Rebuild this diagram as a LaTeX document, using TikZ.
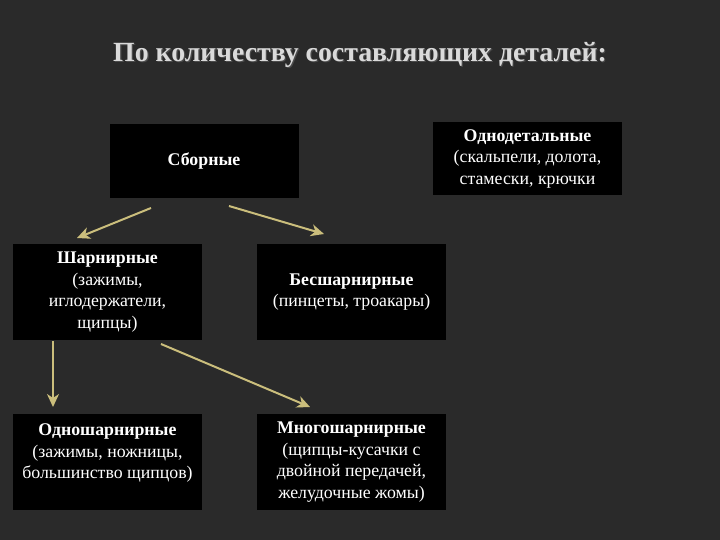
\documentclass[tikz,border=0pt]{standalone}
\usepackage{fontspec}
\setmainfont{Liberation Serif}
\usetikzlibrary{arrows.meta}
\definecolor{bgc}{HTML}{2A2A2A}
\definecolor{arrc}{HTML}{CBBE7C}
\definecolor{titlec}{HTML}{DADADA}
\tikzset{
  box/.style={fill=black, draw=none, text=white, align=center, inner sep=0pt,
    minimum width=189pt, font=\fontsize{17.8}{21.6}\selectfont},
  arr/.style={draw=arrc, line width=2pt, -{Stealth[length=13pt,width=12pt,inset=4pt]}}
}
\begin{document}
\begin{tikzpicture}[x=1pt,y=-1pt]
\fill[bgc] (0,0) rectangle (720,540);
\useasboundingbox (0,0) rectangle (720,540);
\node[text=black!70, font=\fontsize{27.8}{32}\selectfont\bfseries] at (361.2,56.2) {По количеству составляющих деталей:};
\node[text=titlec, font=\fontsize{27.8}{32}\selectfont\bfseries] (title) at (360,55) {По количеству составляющих деталей:};

\node[box, minimum height=74pt] (sborn) at (204,161) {\textbf{Сборные}};
\node[box, minimum height=73pt] (odnodet) at (527.5,159) {\textbf{Однодетальные}\\(скальпели, долота,\\стамески, крючки};
\node[box, minimum height=96pt] (sharn) at (107.5,292) {\textbf{Шарнирные}\\(зажимы,\\иглодержатели,\\щипцы)};
\node[box, minimum height=96pt] (bessharn) at (351.5,292) {\textbf{Бесшарнирные}\\(пинцеты, троакары)};
\node[box, minimum height=96pt] (odnosharn) at (107.5,462) {\textbf{Одношарнирные}\\(зажимы, ножницы,\\большинство щипцов)\\\mbox{}};
\node[box, minimum height=96pt] (mnogosharn) at (351.5,462) {\textbf{Многошарнирные}\\(щипцы-кусачки с\\двойной передачей,\\желудочные жомы)};

\coordinate (a1s) at (151,208);
\coordinate (a1e) at (77,238);
\coordinate (a2s) at (229,206);
\coordinate (a2e) at (324,234);
\coordinate (a3s) at (53,341);
\coordinate (a3e) at (53,407);
\coordinate (a4s) at (161,344);
\coordinate (a4e) at (310,407);
\draw[arr] (a1s) -- (a1e);
\draw[arr] (a2s) -- (a2e);
\draw[arr] (a3s) -- (a3e);
\draw[arr] (a4s) -- (a4e);
\end{tikzpicture}
\end{document}
